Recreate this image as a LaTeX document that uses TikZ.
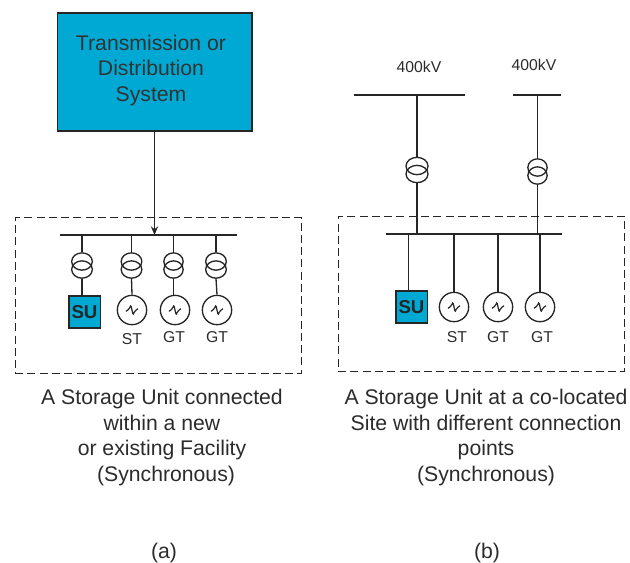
\documentclass[tikz,border=0pt]{standalone}
\usepackage{fontspec}
\setmainfont{Liberation Sans}
\usepackage{xcolor}
\usetikzlibrary{arrows.meta,positioning,shapes.geometric}
\definecolor{subblue}{HTML}{00A9D4}
\definecolor{inkgrey}{HTML}{2B2B2B}

\begin{document}
\begin{tikzpicture}[
    x=0.75pt, y=-0.75pt,
    line width=1pt,
    sysbox/.style={rectangle, draw=black!85, fill=subblue, line width=1pt, minimum width=146pt, minimum height=88.5pt},
    sitebox/.style={rectangle, draw=black!85, dash pattern=on 6pt off 3.2pt, line width=0.9pt, minimum width=215pt, minimum height=116.5pt},
    su/.style={rectangle, draw=black!85, fill=subblue, line width=1pt, minimum width=23.5pt, minimum height=24pt, inner sep=0pt, text=black!85, font=\fontsize{14}{16}\selectfont\bfseries},
    gen/.style={circle, draw=black!85, line width=1pt, minimum size=22pt, inner sep=0pt, path picture={
        \draw[black!85, line width=0.9pt] ([xshift=-4.5pt,yshift=-1pt]path picture bounding box.center) .. controls +(1.2pt,0pt) and +(-0.6pt,-0.5pt) .. ([xshift=-1.5pt,yshift=2pt]path picture bounding box.center) .. controls +(1.2pt,5pt) and +(-1.2pt,-5pt) .. ([xshift=1.5pt,yshift=-2pt]path picture bounding box.center) .. controls +(0.6pt,0.5pt) and +(-1.2pt,0pt) .. ([xshift=4.5pt,yshift=1pt]path picture bounding box.center);}},
    xfmr/.style={ellipse, draw=black!85, line width=1pt, minimum width=15.5pt, minimum height=13pt, inner sep=0pt},
    busbar/.style={rectangle, fill=black!85, minimum height=1pt, inner sep=0pt},
    wire/.style={draw=black!85, line width=1pt},
    arrow/.style={-{Stealth[length=6.5pt,width=5.5pt]}, black!85, line width=1pt},
    tag/.style={text=inkgrey, font=\fontsize{11.8}{14}\selectfont, inner sep=0pt},
    capt/.style={text=inkgrey, align=center, inner sep=0pt, font=\fontsize{15.9}{19.2}\selectfont}
]
    \useasboundingbox (0,0) rectangle (630,562);

    % Left part
    \node[sysbox] (system) at (154.5,72) {};
    \node[capt, text=black!80] (systemtext) at (151,70.5) {Transmission or\\Distribution\\System};
    \node[sitebox] (siteA) at (158.5,295.5) {};
    \node[busbar, minimum width=133pt] (busA) at (148.5,235) {};

    \node[xfmr] (trA1u) at (82,261.5) {};
    \node[xfmr] (trA1l) at (82,269.5) {};
    \node[xfmr] (trA2u) at (131.5,261.5) {};
    \node[xfmr] (trA2l) at (131.5,269.5) {};
    \node[xfmr, minimum width=14.5pt] (trA3u) at (173.5,261.5) {};
    \node[xfmr, minimum width=14.5pt] (trA3l) at (173.5,269.5) {};
    \node[xfmr] (trA4u) at (216,261.5) {};
    \node[xfmr] (trA4l) at (216,269.5) {};

    \node[su] (suA) at (84.5,312) {SU};
    \node[gen] (genA1) at (132,310) {};
    \node[gen] (genA2) at (175,310) {};
    \node[gen] (genA3) at (217,310) {};
    \node[tag] (stA) at (132,339) {ST};
    \node[tag] (gtA1) at (174,337) {GT};
    \node[tag] (gtA2) at (217,337) {GT};

    % Right part
    \node[sitebox] (siteB) at (481.5,294) {};
    \node[busbar, minimum width=132pt] (busB) at (474,234) {};
    \node[busbar, minimum width=83pt] (topB1) at (409.5,95) {};
    \node[busbar, minimum width=36pt] (topB2) at (536.5,95) {};
    \node[tag] (kvB1) at (419,67) {400kV};
    \node[tag] (kvB2) at (534,65) {400kV};

    \node[xfmr, minimum width=16.5pt, minimum height=13pt] (trB1u) at (417,166) {};
    \node[xfmr, minimum width=16.5pt, minimum height=13pt] (trB1l) at (417,174) {};
    \node[xfmr, minimum width=14.5pt, minimum height=13pt] (trB2u) at (537.5,167.5) {};
    \node[xfmr, minimum width=14.5pt, minimum height=13pt] (trB2l) at (537.5,175.5) {};

    \node[su] (suB) at (411.5,307) {SU};
    \node[gen] (genB1) at (454,307) {};
    \node[gen] (genB2) at (498,307) {};
    \node[gen] (genB3) at (540,307) {};
    \node[tag] (stB) at (457,337) {ST};
    \node[tag] (gtB1) at (498,337) {GT};
    \node[tag] (gtB2) at (542,337) {GT};
    \coordinate (feedB) at (408.7,0);

    % Arrows
    \draw[arrow] (system.south) -- (system.south |- busA);
    \draw[wire] (trA1u.north) -- (trA1u.north |- busA);
    \draw[wire] (trA2u.north) -- (trA2u.north |- busA);
    \draw[wire] (trA3u.north) -- (trA3u.north |- busA);
    \draw[wire] (trA4u.north) -- (trA4u.north |- busA);
    \draw[wire] (trA1l.south) -- (trA1l.south |- suA.north);
    \draw[wire] (trA2l.south) -- (genA1.north);
    \draw[wire] (trA3l.south) -- (trA3l.south |- genA2.north);
    \draw[wire] (trA4l.south) -- (genA3.north);

    \draw[wire] (trB1u.north) -- (trB1u.north |- topB1);
    \draw[wire] (trB1l.south) -- (trB1l.south |- busB);
    \draw[wire] (trB2u.north) -- (trB2u.north |- topB2);
    \draw[wire] (trB2l.south) -- (trB2l.south |- busB);
    \draw[wire] (feedB |- suB.north) -- (feedB |- busB);
    \draw[wire] (genB1.north) -- (genB1.north |- busB);
    \draw[wire] (genB2.north) -- (genB2.north |- busB);
    \draw[wire] (genB3.north) -- (genB3.north |- busB);

    % Captions
    \node[capt] (captA) at (162,437.5) {A Storage Unit connected\\within a new\\or existing Facility\\\hspace*{6pt}(Synchronous)};
    \node[capt] (captB) at (486,437.5) {A Storage Unit at a co-located\\Site with different connection\\points\\(Synchronous)};
    \node[capt] (labelA) at (164,552.5) {(a)};
    \node[capt] (labelB) at (487,552.5) {(b)};
\end{tikzpicture}
\end{document}
